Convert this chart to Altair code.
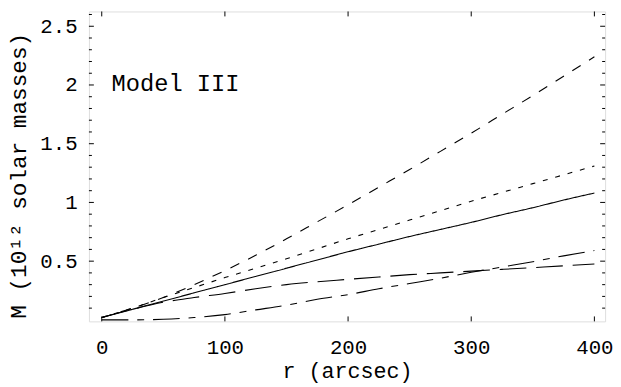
import altair as alt
import pandas as pd

# radius grid (arcsec)
r = [0, 25, 50, 75, 100, 125, 150, 175, 200, 225, 250, 275, 300, 325, 350, 375, 400]

# mass curves (10^12 solar masses)
m_thin_dash = [0.02, 0.10, 0.19, 0.30, 0.42, 0.55, 0.69, 0.835, 0.98, 1.13, 1.28, 1.435, 1.59, 1.75, 1.91, 2.075, 2.24]
m_dotted = [0.02, 0.10, 0.19, 0.275, 0.36, 0.44, 0.52, 0.605, 0.69, 0.77, 0.85, 0.93, 1.01, 1.085, 1.16, 1.235, 1.31]
m_solid = [0.02, 0.09, 0.16, 0.23, 0.30, 0.37, 0.44, 0.51, 0.58, 0.645, 0.71, 0.77, 0.83, 0.895, 0.955, 1.02, 1.08]
m_long_dash = [0.02, 0.09, 0.15, 0.19, 0.225, 0.265, 0.30, 0.325, 0.345, 0.365, 0.385, 0.40, 0.415, 0.43, 0.445, 0.46, 0.476]
m_dash_dot = [0.0, 0.0, 0.005, 0.02, 0.045, 0.085, 0.125, 0.175, 0.215, 0.265, 0.31, 0.355, 0.405, 0.45, 0.495, 0.545, 0.59]

series_names = ["thin_dash", "dotted", "solid", "long_dash", "dash_dot"]
series_values = [m_thin_dash, m_dotted, m_solid, m_long_dash, m_dash_dot]
series_dash = [[10, 10], [5, 8], [1, 0], [27, 10], [27, 9, 7, 9]]
series_width = [1.1, 1.1, 2.5, 2.7, 2.7]

x_major = [0, 100, 200, 300, 400]
y_major = [0.5, 1.0, 1.5, 2.0, 2.5]
y_minor = [round(0.1 * i, 1) for i in range(1, 27) if (i % 5) != 0]

label_text = ["Model III"]
label_x = [8]
label_y = [2.01]

FONT = "'Liberation Mono', 'Courier New', Courier, monospace"
W, H = 523, 314

rows = []
for name, vals in zip(series_names, series_values):
    for xv, yv in zip(r, vals):
        rows.append({"series": name, "r": xv, "M": yv})
df = pd.DataFrame(rows)

xscale = alt.Scale(domain=[-10.4, 408.7], nice=False, zero=False)
yscale = alt.Scale(domain=[-0.0126, 2.626], nice=False, zero=False)

lines = alt.Chart(df).mark_line(color="black", interpolate="monotone").encode(
    x=alt.X("r:Q", scale=xscale,
            axis=alt.Axis(values=x_major, format="d", title="r (arcsec)",
                          ticks=False, tickSize=0, domain=False, grid=False,
                          labelPadding=16, labelFont=FONT, labelFontSize=21,
                          labelColor="black", titleFont=FONT, titleFontSize=22,
                          titleFontWeight="normal", titleColor="black",
                          titleBaseline="middle", titleY=50)),
    y=alt.Y("M:Q", scale=yscale,
            axis=alt.Axis(values=y_major, format="~g", title="M (10¹² solar masses)",
                          ticks=False, tickSize=0, domain=False, grid=False,
                          labelPadding=12, labelFont=FONT, labelFontSize=21,
                          labelColor="black", labelBaseline="middle",
                          titleFont=FONT, titleFontSize=23, titleFontWeight="normal",
                          titleColor="black", titleBaseline="middle",
                          titleX=-71, titleY=166)),
    strokeDash=alt.StrokeDash("series:N", scale=alt.Scale(domain=series_names, range=series_dash), legend=None),
    strokeWidth=alt.StrokeWidth("series:N", scale=alt.Scale(domain=series_names, range=series_width), legend=None),
    detail="series:N",
)

xt = pd.DataFrame({"r": x_major})
ymaj = pd.DataFrame({"M": y_major})
ymin = pd.DataFrame({"M": y_minor})

tick_bottom = alt.Chart(xt).mark_rule(color="black", strokeWidth=1).encode(
    x=alt.X("r:Q", scale=xscale), y=alt.value(H), y2=alt.value(H - 5))
tick_top = alt.Chart(xt).mark_rule(color="black", strokeWidth=1).encode(
    x=alt.X("r:Q", scale=xscale), y=alt.value(0), y2=alt.value(5))
tick_left = alt.Chart(ymaj).mark_rule(color="black", strokeWidth=1).encode(
    y=alt.Y("M:Q", scale=yscale), x=alt.value(0), x2=alt.value(5))
tick_right = alt.Chart(ymaj).mark_rule(color="black", strokeWidth=1).encode(
    y=alt.Y("M:Q", scale=yscale), x=alt.value(W), x2=alt.value(W - 5))
mtick_left = alt.Chart(ymin).mark_rule(color="black", strokeWidth=1).encode(
    y=alt.Y("M:Q", scale=yscale), x=alt.value(0), x2=alt.value(3))
mtick_right = alt.Chart(ymin).mark_rule(color="black", strokeWidth=1).encode(
    y=alt.Y("M:Q", scale=yscale), x=alt.value(W), x2=alt.value(W - 3))

lab = alt.Chart(pd.DataFrame({"t": label_text, "r": label_x, "M": label_y})).mark_text(
    font=FONT, fontSize=24, align="left", baseline="middle", color="black").encode(
    x=alt.X("r:Q", scale=xscale), y=alt.Y("M:Q", scale=yscale), text="t:N")

chart = alt.layer(lines, tick_bottom, tick_top, tick_left, tick_right,
                  mtick_left, mtick_right, lab).properties(
    width=W, height=H,
    autosize=alt.AutoSizeParams(type="none"),
    padding={"left": 82, "top": 1, "right": 8, "bottom": 64},
).configure_view(stroke="black", strokeWidth=2).configure(background="white")

chart.save("out.html", embed_options={"renderer": "svg", "actions": False})
